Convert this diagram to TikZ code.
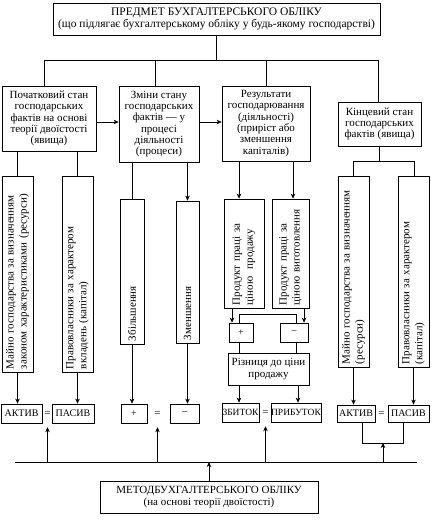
\documentclass[tikz,border=0pt]{standalone}
\usepackage{fontspec}
\setmainfont{Liberation Serif}
\usetikzlibrary{arrows.meta}
\begin{document}
\begin{tikzpicture}[x=1pt,y=-1pt,
 box/.style={draw, line width=0.7pt, inner sep=0pt, align=center, font=\fontsize{11}{11.3}\selectfont},
 vbox/.style={draw, line width=0.7pt, inner sep=2pt, rotate=90, align=left, font=\fontsize{11}{13}\selectfont},
 sbox/.style={box, font=\fontsize{10}{11}\selectfont},
 tbox/.style={box, font=\fontsize{9.5}{10}\selectfont},
 ln/.style={line width=0.7pt},
 arr/.style={line width=0.7pt, -{Stealth[length=5pt,width=4.5pt,inset=1.5pt]}},
 eqs/.style={inner sep=0pt, minimum width=6pt, minimum height=27pt, font=\fontsize{11}{11}\selectfont}
]
\useasboundingbox (0,0) rectangle (432,520);
% top
\node[box, minimum width=327pt, minimum height=32pt, font=\fontsize{11.5}{12}\selectfont] (top) at (216.5,19) {ПРЕДМЕТ БУХГАЛТЕРСЬКОГО ОБЛІКУ\\(що підлягає бухгалтерському обліку у будь-якому господарстві)};
% level 1
\node[box, minimum width=94pt, minimum height=65pt] (b1) at (49,118.5) {Початковий стан\\господарських\\фактів на основі\\теорії двоїстості\\(явища)};
\node[box, minimum width=80pt, minimum height=76pt] (b2) at (159,124) {Зміни стану\\господарських\\фактів — у\\процесі\\діяльності\\(процеси)};
\node[box, minimum width=88pt, minimum height=75pt] (b3) at (266,123.5) {Результати\\господарювання\\(діяльності)\\(приріст або\\зменшення\\капіталів)};
\node[box, minimum width=83pt, minimum height=44pt] (b4) at (379.5,124) {Кінцевий стан\\господарських\\фактів (явища)};
% top connectors
\coordinate (hl) at (44,60);
\coordinate (h2) at (155,60);
\coordinate (h3) at (266,60);
\coordinate (hr) at (378,60);
\draw[ln] (top.south) -- (top.south |- hl);
\draw[ln] (hl) -- (hr);
\draw[ln] (hl) -- (hl |- b1.north);
\draw[ln] (h2) -- (h2 |- b2.north);
\draw[ln] (h3) -- (h3 |- b3.north);
\draw[ln] (hr) -- (hr |- b4.north);
\coordinate (ya) at (0,122);
\draw[arr] (b1.east |- ya) -- (b2.west |- ya);
\draw[arr] (b2.east |- ya) -- (b3.west |- ya);
% left verticals (rotated: .east = top, .west = bottom)
\node[vbox, minimum width=196pt, minimum height=31pt, text width=190pt] (v1) at (17.5,274) {Майно господарства за визначенням\\законом характеристиками (ресурси)};
\node[vbox, minimum width=196pt, minimum height=31pt, text width=190pt] (v2) at (77.5,274) {Правовласники за характером\\вкладень (капітал)};
\draw[ln] (v1.east |- b1.south) -- (v1.east);
\draw[ln] (v2.east |- b1.south) -- (v2.east);
% change boxes
\node[vbox, minimum width=145pt, minimum height=24pt, text width=139pt] (z1) at (132,271.5) {Збільшення};
\node[vbox, minimum width=142pt, minimum height=23pt, text width=136pt] (z2) at (187.5,272) {Зменшення};
\draw[ln] (z1.east |- b2.south) -- (z1.east);
\draw[arr] (z2.east |- b2.south) -- (z2.east);
% product boxes
\node[vbox, minimum width=109pt, minimum height=40pt, text width=103pt] (pA) at (244,253.5) {Продукт праці за\\ціною\ \ продажу};
\node[vbox, minimum width=109pt, minimum height=37pt, text width=103pt] (pB) at (290.5,253.5) {Продукт праці за\\ціною виготовлення};
\coordinate (xa) at (239,0);
\coordinate (xb) at (293,0);
\draw[arr] (b3.south -| xa) -- (pA.east -| xa);
\draw[arr] (b3.south -| xb) -- (pB.east -| xb);
\node[sbox, minimum width=24pt, minimum height=19pt] (pl) at (241,332.5) {+};
\node[sbox, minimum width=28pt, minimum height=19pt] (mi) at (294,332.5) {–};
\coordinate (xpa) at (232,0);
\coordinate (xpb) at (304,0);
\draw[arr] (pA.west -| xpa) -- (pl.north -| xpa);
\draw[arr] (pB.west -| xpb) -- (mi.north -| xpb);
\coordinate (c1) at (239,314);
\coordinate (c2) at (296,314);
\draw[ln] (pl.north -| c1) -- (c1) -- (c2) -- (mi.north -| c2);
\node[box, minimum width=81pt, minimum height=32pt] (rz) at (268.5,369) {Різниця до ціни\\продажу};
\draw[ln] (pl.south -| c1) -- (rz.north -| c1);
\draw[ln] (mi.south -| c2) -- (rz.north -| c2);
% right verticals
\node[vbox, minimum width=191pt, minimum height=31pt, text width=185pt] (r1) at (353.5,271.5) {Майно господарства за визначенням\\(ресурси)};
\node[vbox, minimum width=191pt, minimum height=31pt, text width=185pt] (r2) at (413.5,271.5) {Правовласники за характером\\(капітал)};
\coordinate (qL) at (353,161);
\coordinate (qR) at (414,161);
\draw[ln] (b4.south) -- (b4.south |- qL);
\draw[ln] (qL) -- (qR);
\draw[ln] (qL) -- (qL |- r1.east);
\draw[ln] (qR) -- (qR |- r2.east);
% bottom row
\node[sbox, minimum width=41pt, minimum height=19pt] (a1) at (21.5,413.5) {АКТИВ};
\node[eqs] (e1) at (47.5,413.5) {=};
\node[sbox, minimum width=42pt, minimum height=19pt] (p1) at (73,413.5) {ПАСИВ};
\draw[arr] (v1.west) -- (v1.west |- a1.north);
\draw[arr] (v2.west) -- (v2.west |- p1.north);
\node[sbox, minimum width=26pt, minimum height=19pt] (pl2) at (134,413.5) {+};
\node[eqs] (e2) at (157.5,413.5) {=};
\node[sbox, minimum width=29pt, minimum height=19pt] (mi2) at (184.5,413.5) {–};
\draw[arr] (z1.west) -- (z1.west |- pl2.north);
\draw[arr] (z2.west) -- (z2.west |- mi2.north);
\node[tbox, minimum width=37pt, minimum height=19pt] (zb) at (240.5,412.5) {ЗБИТОК};
\node[eqs] (e3) at (265.5,412.5) {=};
\node[tbox, minimum width=50pt, minimum height=19pt] (pr) at (296,412.5) {ПРИБУТОК};
\coordinate (xr1) at (239,0);
\coordinate (xr2) at (298,0);
\draw[arr] (rz.south -| xr1) -- (zb.north -| xr1);
\draw[arr] (rz.south -| xr2) -- (pr.north -| xr2);
\node[sbox, minimum width=38pt, minimum height=17pt] (a2) at (356,413.5) {АКТИВ};
\node[eqs] (e4) at (381.5,413.5) {=};
\node[sbox, minimum width=41pt, minimum height=17pt] (p2) at (408.5,413.5) {ПАСИВ};
\draw[arr] (r1.west) -- (r1.west |- a2.north);
\draw[arr] (r2.west) -- (r2.west |- p2.north);
\coordinate (k1) at (362,443);
\coordinate (k2) at (403,443);
\coordinate (km) at (383,443);
\draw[ln] (a2.south -| k1) -- (k1) -- (k2) -- (p2.south -| k2);
% bottom bus
\coordinate (bl) at (15,462);
\coordinate (br) at (417,462);
\draw[ln] (bl) -- (br);
\draw[arr] (e1.south |- bl) -- (e1.south);
\draw[arr] (e2.south |- bl) -- (e2.south);
\draw[arr] (e3.south |- bl) -- (e3.south);
\draw[arr] (km |- bl) -- (km);
\node[box, minimum width=218pt, minimum height=32pt] (m) at (209,497) {МЕТОДБУХГАЛТЕРСЬКОГО ОБЛІКУ\\(на основі теорії двоїстості)};
\draw[arr] (m.north) -- (m.north |- bl);
\end{tikzpicture}
\end{document}
